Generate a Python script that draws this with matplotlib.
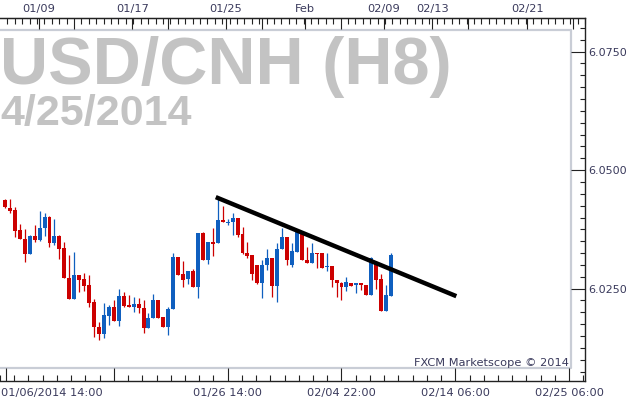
import numpy as np
import matplotlib
matplotlib.use("Agg")
import matplotlib.pyplot as plt
from matplotlib.transforms import ScaledTranslation

# ---------------- data (USD/CNH H8 candles) ----------------
opens = [6.0437, 6.0420, 6.0416, 6.0373, 6.0354, 6.0323, 6.0361, 6.0352, 6.0378, 6.0401,
         6.0346, 6.0361, 6.0335, 6.0272, 6.0228, 6.0278, 6.0270, 6.0257, 6.0222, 6.0169,
         6.0154, 6.0192, 6.0211, 6.0181, 6.0234, 6.0215, 6.0211, 6.0217, 6.0209, 6.0167,
         6.0188, 6.0226, 6.0190, 6.0169, 6.0207, 6.0316, 6.0281, 6.0270, 6.0287, 6.0253,
         6.0367, 6.0310, 6.0348, 6.0346, 6.0395, 6.0388, 6.0390, 6.0399, 6.0365, 6.0325,
         6.0321, 6.0300, 6.0262, 6.0300, 6.0314, 6.0255, 6.0333, 6.0359, 6.0300, 6.0327,
         6.0369, 6.0310, 6.0304, 6.0325, 6.0325, 6.0295, 6.0297, 6.0268, 6.0262, 6.0253,
         6.0262, 6.0257, 6.0262, 6.0257, 6.0236, 6.0304, 6.0270, 6.0203, 6.0234]
highs = [6.0439, 6.0439, 6.0422, 6.0386, 6.0376, 6.0363, 6.0384, 6.0413, 6.0409, 6.0403,
         6.0397, 6.0363, 6.0348, 6.0321, 6.0327, 6.0278, 6.0283, 6.0278, 6.0228, 6.0179,
         6.0219, 6.0215, 6.0226, 6.0249, 6.0243, 6.0236, 6.0232, 6.0230, 6.0226, 6.0198,
         6.0238, 6.0226, 6.0190, 6.0211, 6.0325, 6.0316, 6.0308, 6.0287, 6.0291, 6.0367,
         6.0369, 6.0348, 6.0378, 6.0441, 6.0424, 6.0397, 6.0409, 6.0399, 6.0380, 6.0348,
         6.0321, 6.0300, 6.0310, 6.0333, 6.0314, 6.0346, 6.0378, 6.0359, 6.0346, 6.0369,
         6.0369, 6.0338, 6.0346, 6.0325, 6.0325, 6.0325, 6.0297, 6.0268, 6.0264, 6.0274,
         6.0262, 6.0262, 6.0262, 6.0257, 6.0316, 6.0308, 6.0281, 6.0257, 6.0325]
lows = [6.0420, 6.0409, 6.0359, 6.0354, 6.0306, 6.0323, 6.0348, 6.0350, 6.0361, 6.0338,
        6.0342, 6.0312, 6.0272, 6.0228, 6.0228, 6.0243, 6.0245, 6.0211, 6.0148, 6.0141,
        6.0146, 6.0173, 6.0181, 6.0171, 6.0211, 6.0211, 6.0200, 6.0198, 6.0156, 6.0167,
        6.0188, 6.0188, 6.0169, 6.0152, 6.0207, 6.0278, 6.0253, 6.0259, 6.0253, 6.0230,
        6.0310, 6.0302, 6.0319, 6.0346, 6.0390, 6.0384, 6.0363, 6.0359, 6.0323, 6.0314,
        6.0268, 6.0259, 6.0230, 6.0289, 6.0232, 6.0222, 6.0333, 6.0300, 6.0295, 6.0327,
        6.0310, 6.0304, 6.0304, 6.0293, 6.0293, 6.0287, 6.0253, 6.0232, 6.0226, 6.0245,
        6.0255, 6.0241, 6.0247, 6.0236, 6.0236, 6.0249, 6.0203, 6.0203, 6.0234]
closes = [6.0422, 6.0413, 6.0371, 6.0354, 6.0323, 6.0361, 6.0352, 6.0378, 6.0401, 6.0346,
          6.0361, 6.0333, 6.0272, 6.0228, 6.0278, 6.0268, 6.0255, 6.0219, 6.0169, 6.0154,
          6.0194, 6.0211, 6.0181, 6.0234, 6.0213, 6.0211, 6.0217, 6.0209, 6.0167, 6.0188,
          6.0226, 6.0188, 6.0169, 6.0207, 6.0316, 6.0278, 6.0268, 6.0287, 6.0253, 6.0367,
          6.0310, 6.0348, 6.0344, 6.0395, 6.0390, 6.0390, 6.0399, 6.0363, 6.0325, 6.0319,
          6.0281, 6.0262, 6.0300, 6.0314, 6.0255, 6.0333, 6.0359, 6.0310, 6.0329, 6.0369,
          6.0310, 6.0304, 6.0325, 6.0323, 6.0293, 6.0297, 6.0268, 6.0262, 6.0253, 6.0264,
          6.0255, 6.0262, 6.0257, 6.0236, 6.0314, 6.0268, 6.0203, 6.0236, 6.0321]

# trendline drawn on the chart (candle index, price)
trend_x = [42.6, 91.2]
trend_y = [6.0443, 6.0234]

# axis ticks / labels
bottom_ticks = [0.2, 22, 45, 68, 91, 114]
bottom_labels = ["01/06/2014 14:00", "", "01/26 14:00", "02/04 22:00", "02/14 06:00", "02/25 06:00"]
top_ticks = [6.8, 14, 25.8, 33, 44.8, 52, 60.8, 68, 76.8, 86.6, 93.8, 105.8, 115]
top_labels = ["01/09", "", "01/17", "", "01/25", "", "Feb", "", "02/09", "02/13", "", "02/21", ""]
price_ticks = [6.0250, 6.0500, 6.0750]

UP = "#0f5fbf"
DOWN = "#cc0000"
TXT = "#3a3a5c"
FRAME = "#c9cdd6"

# ---------------- figure ----------------
W, H = 638, 409
fig = plt.figure(figsize=(W / 100, H / 100), dpi=100)
fig.patch.set_facecolor("white")

# main axes: outer frame from x=0..585 px, y=18..381 px
ax = fig.add_axes([0, (H - 381) / H, 585 / W, (381 - 18) / H])
ax.set_xlim(0.2, 117.2)
ax.set_ylim(6.0055, 6.0821)

o = np.array(opens)
h = np.array(highs)
l = np.array(lows)
c = np.array(closes)
x = np.arange(len(o))
colors = np.where(c >= o, UP, DOWN)

ax.vlines(x, l, h, colors=colors, linewidth=0.9, zorder=2)
body_bottom = np.minimum(o, c)
body_height = np.maximum(np.abs(c - o), 0.00012)
ax.bar(x, body_height, bottom=body_bottom, width=0.8, color=colors, linewidth=0, zorder=3)

ax.plot(trend_x, trend_y, color="black", linewidth=3.2, solid_capstyle="butt", zorder=4)

# inner grey panel frame (top, right and bottom edges only)
fx0, fx1 = 0.0, 571 / 585
fy0, fy1 = (381 - 368) / 363, (381 - 30) / 363
ax.plot([fx0, fx1, fx1, fx0], [fy1, fy1, fy0, fy0], transform=ax.transAxes,
        color=FRAME, linewidth=1.6, zorder=1, clip_on=False)

# watermark texts
ax.text(0.0, 1 - (84 - 18) / 363, "USD/CNH (H8)", transform=ax.transAxes,
        fontsize=48, fontweight="bold", family="Liberation Sans", color="#c3c3c3",
        ha="left", va="baseline", zorder=0)
ax.text(0.0, 1 - (125 - 18) / 363, "4/25/2014", transform=ax.transAxes,
        fontsize=31, fontweight="bold", family="Liberation Sans", color="#c3c3c3",
        ha="left", va="baseline", zorder=0)
ax.text(569 / 585, (381 - 366) / 363, "FXCM Marketscope \u00a9 2014", transform=ax.transAxes,
        fontsize=8.2, color=TXT, ha="right", va="baseline", zorder=5)

# spines
ax.spines["left"].set_visible(False)
for s in ["top", "bottom", "right"]:
    ax.spines[s].set_color("#222222")
    ax.spines[s].set_linewidth(1.0)

# bottom x axis
ax.set_xticks(bottom_ticks)
ax.set_xticklabels(bottom_labels)
ax.set_xticks(np.arange(-1, 118, 23 / 8), minor=True)
ax.tick_params(axis="x", which="major", direction="in", length=9.4, width=0.8,
               color="#222222", labelsize=8.2, labelcolor=TXT, pad=5, top=False)
ax.tick_params(axis="x", which="minor", direction="in", length=4.3, width=0.8,
               color="#222222", top=False)
first = ax.xaxis.get_major_ticks()[0].label1
first.set_horizontalalignment("left")
first.set_transform(first.get_transform() + ScaledTranslation(-5 / 100, 0, fig.dpi_scale_trans))

# top x axis
top = ax.twiny()
top.set_xlim(ax.get_xlim())
top.set_xticks(top_ticks)
top.set_xticklabels(top_labels)
top.set_xticks(np.arange(0.5, 118, 1.5), minor=True)
top.tick_params(axis="x", which="major", direction="in", length=8, width=0.8,
                color="#222222", labelsize=8.2, labelcolor=TXT, pad=3)
top.tick_params(axis="x", which="minor", direction="in", length=4.3, width=0.8,
                color="#222222")
for s in ["left", "right", "bottom"]:
    top.spines[s].set_visible(False)
top.spines["top"].set_color("#222222")
top.yaxis.set_visible(False)

# y axis on the right
ax.yaxis.tick_right()
ax.yaxis.set_label_position("right")
ax.set_yticks(price_ticks)
ax.set_yticklabels([f"{v:.4f}" for v in price_ticks])
ax.set_yticks(np.arange(6.0075, 6.0821, 0.0025), minor=True)
ax.tick_params(axis="y", which="major", direction="in", length=10, width=0.8,
               color="#222222", labelsize=8, labelcolor=TXT, pad=2,
               left=False, right=True, labelleft=False, labelright=True)
ax.tick_params(axis="y", which="minor", direction="in", length=3.6, width=0.8,
               color="#222222", left=False, right=True)

fig.savefig("out.png", dpi=100, facecolor="white")
